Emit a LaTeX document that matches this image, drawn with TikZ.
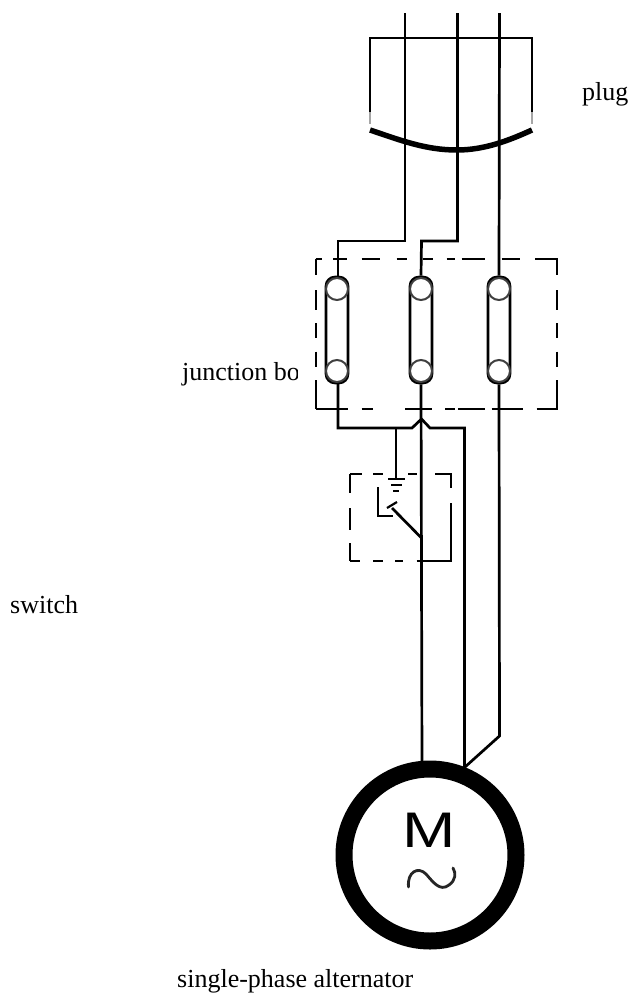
\documentclass[tikz,border=0pt]{standalone}
\usepackage{fontspec}
\setmainfont{Liberation Serif}
\newfontfamily\mfont{Liberation Sans}
\tikzset{
  x=1pt,y=-1pt,
  wire/.style={line width=2.7pt,black,line join=miter},
  dashline/.style={line width=2.7pt,black},
  thinline/.style={line width=2.2pt,black},
  fusebody/.style={draw=black,line width=2.6pt,rectangle,rounded corners=9pt,minimum width=22pt,minimum height=106pt,inner sep=0pt,fill=white},
  terminal/.style={draw=black!75,line width=2pt,circle,minimum size=22pt,inner sep=0pt,fill=white},
  label/.style={font=\fontsize{26}{30}\selectfont,anchor=base west,inner sep=0pt,text=black},
}
\begin{document}
\begin{tikzpicture}
\useasboundingbox (0,0) rectangle (629,994);
\fill[white] (0,0) rectangle (629,994);
% named points
\coordinate (w1top) at (405,13);
\coordinate (w2top) at (457.5,13);
\coordinate (w3top) at (499.5,13);
% fuses
\foreach \n/\xx in {1/337,2/421,3/499}{
  \node[fusebody] (fuse\n) at (\xx,330) {};
}
% plug
\draw[wire] (370,112) -- (370,38) -- (532,38) -- (532,112);
\draw[black!35,line width=2pt] (370,112) -- (370,124) (532,112) -- (532,124);
\draw[line width=5.5pt,black] (370,130) .. controls (400,140) and (425,150) .. (457,150) .. controls (485,150) and (510,140) .. (532,130);
% wires above junction
\draw[wire] (w1top) -- (405,241) -- (338,241) -- (338,277);
\draw[wire] (w2top) -- (457.5,241) -- (421.5,241) -- (fuse2.north);
\draw[wire] (w3top) -- (fuse3.north);
% terminals
\foreach \n/\xx in {1/337,2/421,3/499}{
  \node[terminal] (tt\n) at (\xx,289) {};
  \node[terminal] (tb\n) at (\xx,371) {};
}
% junction box dashes
\foreach \a/\b in {467/487,520/560,605/660,710/740,790/820,860/885,905/975,1025/1080,1125/1193}{
  \draw[dashline] ({160+\a/3},259) -- ({160+\b/3},259);
}
\foreach \a/\b in {467/565,605/640,735/815,855/885,895/975,995/1090,1130/1193}{
  \draw[dashline] ({160+\a/3},409) -- ({160+\b/3},409);
}
\foreach \a/\b in {87/135,180/240,280/325,365/410,450/537}{
  \draw[dashline] (316,{230+\a/3}) -- (316,{230+\b/3});
  \draw[dashline] (557,{230+\a/3}) -- (557,{230+\b/3});
}
% wires below junction
\coordinate (mw1) at (422,765);
\coordinate (mw2) at (464.5,785);
\coordinate (mw3) at (465,767);
\draw[wire] (338,383) -- (338,428) -- (412,428) -- (421.5,419) -- (430,428) -- (464.5,428) -- (mw2);
\draw[wire] (fuse2.south) -- (mw1);
\draw[wire] (fuse3.south) -- (499.5,736) -- (mw3);
% switch
\coordinate (gnd) at (396,479);
\draw[wire] (396,428) -- (gnd);
\draw[thinline] (388,479) -- (405,479);
\draw[thinline] (391,485) -- (402,485);
\draw[thinline] (393,491) -- (399,491);
\draw[thinline] (378,487) -- (378,516) -- (393,516);
\draw[thinline] (387,508) -- (397,502);
\draw[wire] (392,508) -- (421.5,538);
\foreach \a/\b in {570/605,640/670,745/770,825/875}{
  \draw[dashline] ({160+\a/3},474) -- ({160+\b/3},474);
}
\foreach \a/\b in {570/600,640/670,705/730,770/875}{
  \draw[dashline] ({160+\a/3},561) -- ({160+\b/3},561);
}
\foreach \a/\b in {733/790,835/900,940/992}{
  \draw[dashline] (350,{230+\a/3}) -- (350,{230+\b/3});
}
\foreach \a/\b in {733/775,820/992}{
  \draw[dashline] (451,{230+\a/3}) -- (451,{230+\b/3});
}
% motor
\node[draw=black,line width=17pt,circle,minimum size=172pt,inner sep=0pt,fill=white,outer sep=0pt] (motor) at (430,855) {};
\node[inner sep=0pt,xscale=1.28] (mletter) at (429,830) {\mfont\fontsize{50}{50}\selectfont M};
\draw[line width=2.8pt,black!85,line cap=round] (408.5,887) .. controls (407,872) and (418,866) .. (426,874) .. controls (433,882) and (440,892) .. (449,885) .. controls (456,880) and (456,873) .. (453,868);
% labels
\node[label] (plug) at (582,100) {plug};
\begin{scope}
  \clip (170,340) rectangle (297,400);
  \node[label] (jbox) at (182,380) {junction box};
\end{scope}
\node[label] (sw) at (10,613) {switch};
\node[label] (alt) at (177,987) {single-phase alternator};
\end{tikzpicture}
\end{document}
